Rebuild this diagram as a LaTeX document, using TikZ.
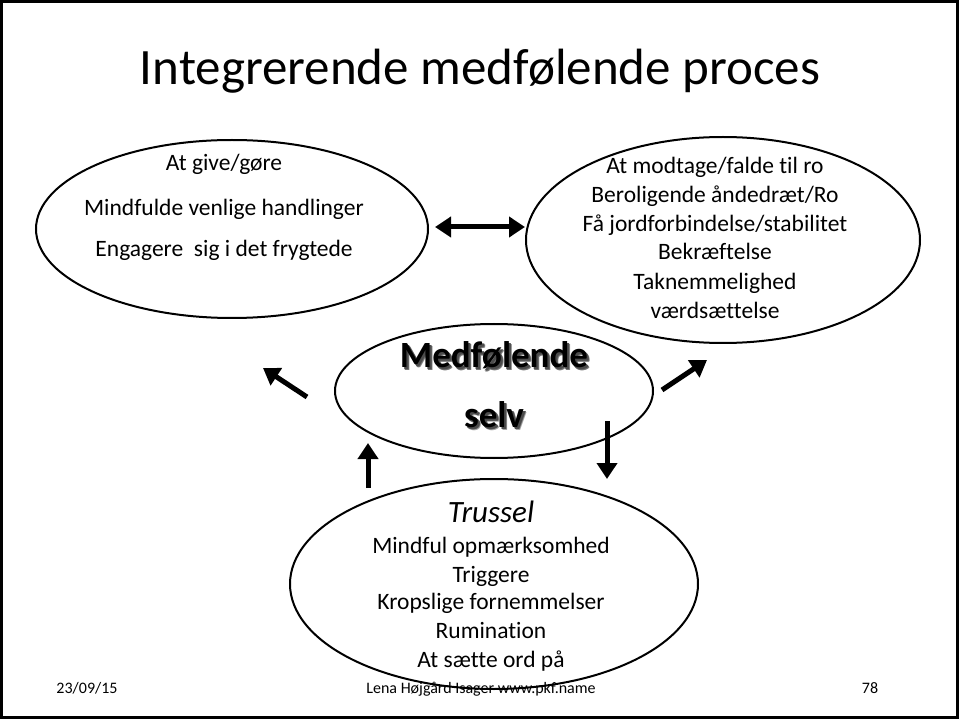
\documentclass[tikz,border=0pt]{standalone}
\usepackage{fontspec}
\setmainfont{Carlito}[Ligatures={NoCommon}]
\usetikzlibrary{arrows.meta}
\tikzset{
  oval/.style={draw=black, line width=2pt},
  txt/.style={font=\fontsize{23.5}{26}\selectfont, inner sep=0pt, anchor=base},
  foot/.style={font=\fontsize{16}{18}\selectfont, inner sep=0pt, anchor=base},
  fatarrow/.style={line width=5pt, -{Triangle[length=16pt, width=20pt]}},
  fatboth/.style={line width=5pt, {Triangle[length=16pt, width=20pt]}-{Triangle[length=16pt, width=20pt]}},
  boldtxt/.style={font=\fontsize{37}{40}\selectfont\bfseries, inner sep=0pt, anchor=base},
}
\begin{document}
\begin{tikzpicture}[x=1pt, y=-1pt]
  % page frame
  \fill[white] (0,0) rectangle (959,719);
  \useasboundingbox (0,0) rectangle (959,719);
  \draw[line width=3pt] (1.5,1.5) rectangle (957.5,717.5);

  % title
  \node[font=\fontsize{51}{56}\selectfont, inner sep=0pt, anchor=base] (title) at (480,85) {Integrerende medfølende proces};

  % footer
  \node[foot] (date) at (87,693) {23/09/15};
  \node[foot] (author) at (481,693) {Lena Højgård Isager www.pkf.name};
  \node[foot] (page) at (870,693) {78};

  % ellipses
  \coordinate (L) at (232,229);
  \coordinate (R) at (723,240);
  \coordinate (C) at (494,391);
  \coordinate (B) at (494,584);
  \draw[oval] (L) ellipse [x radius=196, y radius=89];
  \draw[oval] (R) ellipse [x radius=197, y radius=103];
  \draw[oval] (C) ellipse [x radius=159, y radius=67];
  \draw[oval] (B) ellipse [x radius=204, y radius=105];

  % left ellipse text
  \node[txt] (l1) at (224,171) {At give/gøre};
  \node[txt] (l2) at (224,216) {Mindfulde venlige handlinger};
  \node[txt] (l3) at (224,257) {Engagere\ \ sig i det frygtede};

  % right ellipse text
  \node[txt] (r1) at (715,174) {At modtage/falde til ro};
  \node[txt] (r2) at (715,203) {Beroligende åndedræt/Ro};
  \node[txt] (r3) at (715,232) {Få jordforbindelse/stabilitet};
  \node[txt] (r4) at (715,260) {Bekræftelse};
  \node[txt] (r5) at (715,290) {Taknemmelighed};
  \node[txt] (r6) at (715,319) {værdsættelse};

  % centre ellipse text with soft shadow
  \foreach \dx/\dy/\g in {3/3/35, 2.5/2.5/55, 2/2/70} {
    \node[boldtxt, text=black!\g] at (494+\dx,368+\dy) {Medfølende};
    \node[boldtxt, text=black!\g] at (494+\dx,427+\dy) {selv};
  }
  \node[boldtxt] (c1) at (494,368) {Medfølende};
  \node[boldtxt] (c2) at (494,427) {selv};

  % bottom ellipse text
  \node[txt, font=\fontsize{31}{34}\selectfont\itshape] (b1) at (491,522) {Trussel};
  \node[txt] (b2) at (491,553) {Mindful opmærksomhed};
  \node[txt] (b3) at (491,582) {Triggere};
  \node[txt] (b4) at (491,609) {Kropslige fornemmelser};
  \node[txt] (b5) at (491,638) {Rumination};
  \node[txt] (b6) at (491,667) {At sætte ord på};

  % arrows
  \coordinate (dl) at (435,227);
  \coordinate (dr) at (525,227);
  \draw[fatboth] (dl) -- (dr);
  \coordinate (ls) at (307,397);
  \coordinate (lt) at (263,368);
  \draw[fatarrow] (ls) -- (lt);
  \coordinate (rs) at (662,390);
  \coordinate (rt) at (707,360);
  \draw[fatarrow] (rs) -- (rt);
  \coordinate (us) at (368,488);
  \coordinate (ut) at (368,443);
  \draw[fatarrow] (us) -- (ut);
  \coordinate (ds) at (607,421);
  \coordinate (dt) at (607,479);
  \draw[fatarrow] (ds) -- (dt);
\end{tikzpicture}
\end{document}
